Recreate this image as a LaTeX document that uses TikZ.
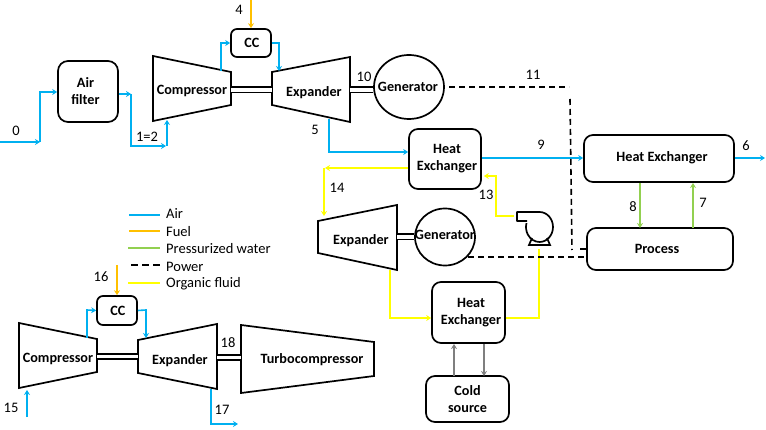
\documentclass[tikz,border=0pt]{standalone}
\usepackage{fontspec}
\setmainfont{Carlito}
\usetikzlibrary{arrows.meta,shapes.geometric}
\definecolor{airc}{HTML}{00B0F0}
\definecolor{fuelc}{HTML}{FFC000}
\definecolor{waterc}{HTML}{92D050}
\definecolor{orgc}{HTML}{FFFF00}
\definecolor{coldc}{HTML}{7F7F7F}
\begin{document}
\begin{tikzpicture}[x=1pt,y=-1pt,
    unit/.style={
      % The shape:
      rectangle,rounded corners=9pt,inner sep=0pt,
      % The rest
      draw=black,line width=1.7pt,
      font=\fontsize{14.2}{17}\selectfont\bfseries,align=center},
    machine/.style={draw=black,line width=1.7pt,line join=miter},
    mlabel/.style={font=\fontsize{14.2}{17}\selectfont\bfseries,inner sep=0pt},
    gen/.style={ellipse,draw=black,line width=1.7pt,inner sep=0pt},
    num/.style={font=\fontsize{14.5}{15}\selectfont,inner sep=0pt},
    legendtext/.style={font=\fontsize{14.5}{15}\selectfont,inner sep=0pt,anchor=west},
    flow/.style={line width=1.6pt,-{Stealth[length=5pt,width=6pt]}},
    plain/.style={line width=1.6pt},
    air/.style={flow,draw=airc},
    fuel/.style={flow,draw=fuelc},
    water/.style={flow,draw=waterc},
    organic/.style={flow,draw=orgc},
    cold/.style={flow,draw=coldc},
    power/.style={line width=1.6pt,dash pattern=on 6pt off 4pt},
    shaft/.style={draw=black,line width=1.8pt,double=white,double distance=3.4pt}]
    \useasboundingbox (0,0) rectangle (766,430);

    % top gas turbine
    \draw[machine] (153,56) -- (231,72) -- (231,105) -- (153,121) -- cycle;
    \draw[machine] (272,72) -- (350,57) -- (350,122) -- (272,105) -- cycle;
    \node[mlabel] (compa) at (192,91) {Compressor};
    \node[mlabel] (expa) at (314,93) {Expander};
    \node[unit,minimum width=60pt,minimum height=61pt,rounded corners=10pt] (filter) at (88,91.5) {Air\hspace*{5pt}\\filter\hspace*{5pt}};
    \node[unit,minimum width=40pt,minimum height=28pt,rounded corners=6pt] (cca) at (251,43) {\hspace*{2pt}CC};
    \node[gen,minimum width=70pt,minimum height=64pt] (gena) at (409,87) {};
    \node[mlabel] (genatext) at (408,87) {Generator};

    % heat exchangers and process
    \node[unit,minimum width=72pt,minimum height=60pt] (hxa) at (445,159) {\hspace*{4pt}Heat\\\hspace*{4pt}Exchanger};
    \node[unit,minimum width=150pt,minimum height=47pt] (hxb) at (659,158.5) {\hspace*{6pt}\raisebox{3pt}{Heat Exchanger}};
    \node[unit,minimum width=146pt,minimum height=42pt] (process) at (660,249) {Process\hspace*{6pt}};
    \node[unit,minimum width=73pt,minimum height=61pt] (hxc) at (468.5,312.5) {\hspace*{5pt}Heat\\\hspace*{5pt}Exchanger};
    \node[unit,minimum width=83pt,minimum height=46pt] (coldsrc) at (467.5,399) {Cold\\source};

    % organic cycle
    \draw[machine] (318,221) -- (397,205) -- (397,270) -- (318,253) -- cycle;
    \node[mlabel] (expb) at (361,241) {Expander};
    \node[gen,minimum width=60pt,minimum height=57pt] (genb) at (445,237) {};
    \node[mlabel] (genbtext) at (445,235) {Generator};
    \draw[line width=1.7pt,line join=round] (527,221) -- (517,221) -- (517,212) -- (539.5,212)
      arc[start angle=90,end angle=-195,x radius=13.5pt,y radius=15pt];
    \draw[line width=1.7pt] (532,238) -- (529,245) -- (550,245) -- (547,238);

    % bottom gas turbine
    \draw[machine] (19,323) -- (97,339) -- (97,372) -- (19,388) -- cycle;
    \draw[machine] (138,340) -- (217,324) -- (217,389) -- (138,373) -- cycle;
    \draw[machine] (241,325) -- (374,342) -- (374,376) -- (241,393) -- cycle;
    \node[mlabel] (compb) at (58,359) {Compressor};
    \node[mlabel] (expc) at (180,361) {Expander};
    \node[mlabel] (turbo) at (312,360) {Turbocompressor};
    \node[unit,minimum width=40pt,minimum height=29pt,rounded corners=6pt] (ccb) at (117,310.5) {\hspace*{2pt}CC};

    % ports
    \coordinate (in0) at (0,142);
    \coordinate (in4) at (251,0);
    \coordinate (in15) at (27,417);
    \coordinate (in16) at (117,265);
    \coordinate (out6) at (765,158);
    \coordinate (out17) at (238,424);
    \coordinate (compaout) at (221,71);
    \coordinate (compain) at (167,120);
    \coordinate (expain) at (279,71);
    \coordinate (expaout) at (329,119);
    \coordinate (expbin) at (324,216);
    \coordinate (expbout) at (390,270);
    \coordinate (compbout) at (87,338);
    \coordinate (compbin) at (27,390);
    \coordinate (expcin) at (146,338);
    \coordinate (expcout) at (211,389);
    \coordinate (pumpin) at (539,249);
    \coordinate (pumpout) at (514,216);

    % shafts
    \draw[shaft] (231,90) -- (272,90);
    \draw[shaft] (350,90) -- (gena.west |- 350,90);
    \draw[shaft] (397,237) -- (genb.west |- 397,237);
    \draw[shaft] (97,356.5) -- (138,356.5);
    \draw[shaft] (217,357.5) -- (241,357.5);

    % air
    \draw[air] (in0) -- (40,142);
    \draw[air] (40,142) -- (40,92) -- (filter.west |- 40,92);
    \draw[air] (filter.east |- 0,94) -- (131,94);
    \draw[air] (131,94) -- (131,146) -- (166,146);
    \draw[air] (167,146) -- (compain);
    \draw[air] (compaout) -- (221,43) -- (cca.west);
    \draw[air] (cca.east) -- (279,43) -- (expain);
    \draw[air] (expaout) -- (329,152) -- (hxa.west |- 329,152);
    \draw[air] (hxa.east |- 0,158) -- (hxb.west |- 0,158);
    \draw[air] (hxb.east |- 0,158) -- (out6);
    \draw[air] (compbout) -- (87,310) -- (ccb.west);
    \draw[air] (ccb.east) -- (146,310) -- (expcin);
    \draw[air] (in15) -- (compbin);
    \draw[air] (expcout) -- (211,424) -- (out17);

    % fuel
    \draw[fuel] (in4) -- (cca.north);
    \draw[fuel] (in16) -- (ccb.north);

    % pressurized water
    \draw[water] (640,183) -- (640,228);
    \draw[water] (693,228) -- (693,183);

    % cold source
    \draw[cold] (454,376) -- (454,344);
    \draw[cold] (484,344) -- (484,376);

    % organic fluid
    \draw[organic] (hxa.west |- 0,168) -- (325,168);
    \draw[organic] (324,168) -- (expbin);
    \draw[organic] (expbout) -- (390,318) -- (hxc.west |- 0,318);
    \draw[plain,draw=orgc] (hxc.east |- 0,318) -- (539,318) -- (pumpin);
    \draw[organic,shorten >=2pt] (pumpout) -- (496,216) -- (496,176) -- (hxa.east |- 0,176);

    % power
    \draw[power] (449,87) -- (569,87);
    \draw[power] (570,99) -- (572,250);
    \draw[power] (580,249) -- (process.west);
    \draw[power] (468,257) -- (process.west |- 0,257);

    % stream numbers
    \node[num] (n0) at (16,131) {0};
    \node[num] (n12) at (147,137) {1=2};
    \node[num] (n4) at (239,10) {4};
    \node[num] (n5) at (315,130) {5};
    \node[num] (n10) at (364,77) {10};
    \node[num] (n11) at (533,75) {11};
    \node[num] (n9) at (541,145) {9};
    \node[num] (n6) at (746,146) {6};
    \node[num] (n13) at (486,195) {13};
    \node[num] (n14) at (337,188) {14};
    \node[num] (n8) at (633,207) {8};
    \node[num] (n7) at (703,203) {7};
    \node[num] (n15) at (11,408) {15};
    \node[num] (n16) at (101,277) {16};
    \node[num] (n17) at (222,410) {17};
    \node[num] (n18) at (228,343) {18};

    % legend
    \draw[plain,draw=airc] (129,215) -- (160,215);
    \draw[plain,draw=fuelc] (129,231) -- (160,231);
    \draw[plain,draw=waterc] (128,248) -- (160,248);
    \draw[plain,dash pattern=on 7pt off 4pt] (131,265) -- (161,265);
    \draw[plain,draw=orgc] (128,283) -- (160,283);
    \node[legendtext] (lair) at (166,214) {Air};
    \node[legendtext] (lfuel) at (166,231.5) {Fuel};
    \node[legendtext] (lwater) at (166,248.5) {Pressurized water};
    \node[legendtext] (lpower) at (166,266.5) {Power};
    \node[legendtext] (lorg) at (166,283.5) {Organic fluid};
  \end{tikzpicture}
\end{document}
